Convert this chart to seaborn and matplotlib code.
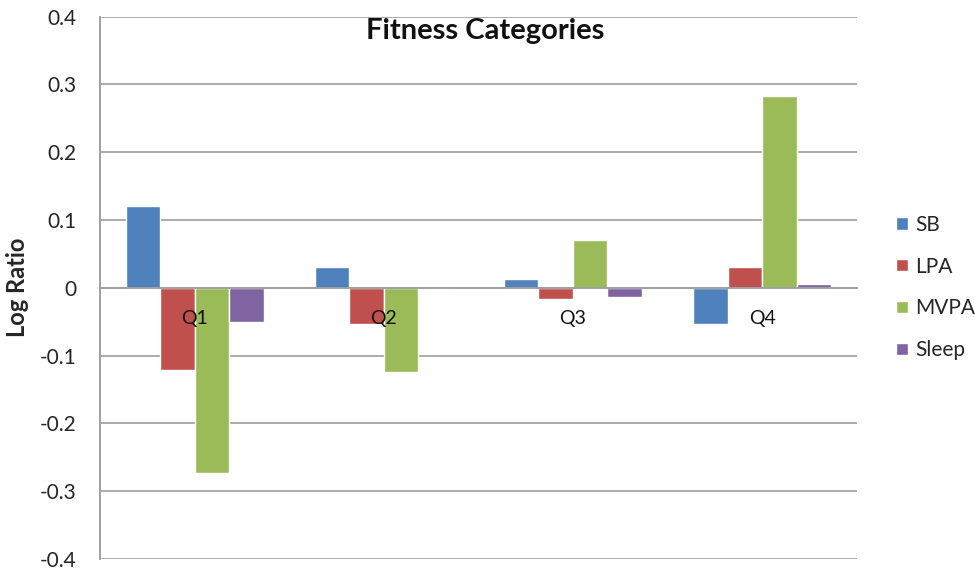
'''Fitness categories log ratio bar chart'''
import pandas as pd
import matplotlib
matplotlib.use('Agg')
import matplotlib.pyplot as plt
from matplotlib.patches import Patch
import seaborn as sns

quartiles = ['Q1', 'Q2', 'Q3', 'Q4']
behaviours = ['SB', 'LPA', 'MVPA', 'Sleep']
sb = [0.120, 0.031, 0.013, -0.053]
lpa = [-0.121, -0.054, -0.016, 0.030]
mvpa = [-0.273, -0.124, 0.070, 0.283]
sleep = [-0.050, 0.002, -0.013, 0.005]
colors = ['#4F81BD', '#C0504D', '#9BBB59', '#8064A2']
y_ticks = [-0.4, -0.3, -0.2, -0.1, 0, 0.1, 0.2, 0.3, 0.4]
y_labels = ['-0.4', '-0.3', '-0.2', '-0.1', '0', '0.1', '0.2', '0.3', '0.4']


def main():
    '''
    main
    '''
    sns.set_style('white')
    plt.rcParams['font.family'] = ['Lato', 'DejaVu Sans']

    rows = []
    for name, vals in zip(behaviours, [sb, lpa, mvpa, sleep]):
        for q, v in zip(quartiles, vals):
            rows.append({'quartile': q, 'behaviour': name, 'value': v})
    df = pd.DataFrame(rows)

    fig = plt.figure(figsize=(9.75, 5.71), dpi=100)
    ax = fig.add_axes([0.1026, 0.021, 0.776, 0.950])
    sns.barplot(data=df, x='quartile', y='value', hue='behaviour',
                order=quartiles, hue_order=behaviours, palette=colors,
                width=0.73, saturation=1, legend=False, ax=ax, zorder=3)

    ax.set_ylim(-0.4, 0.4)
    ax.set_xlim(-0.5, 3.5)
    ax.set_yticks(y_ticks)
    ax.set_yticklabels(y_labels, fontsize=15, color='#262626')
    ax.yaxis.grid(True, color='#ABABAB', linewidth=1.4, zorder=0)
    ax.set_axisbelow(True)
    ax.xaxis.set_zorder(5)

    for side in ['top', 'right']:
        ax.spines[side].set_visible(False)
    ax.spines['left'].set_color('#A0A0A0')
    ax.spines['left'].set_linewidth(1.4)
    ax.spines['bottom'].set_position(('data', 0))
    ax.spines['bottom'].set_color('#A0A0A0')
    ax.spines['bottom'].set_linewidth(1.4)
    ax.spines['bottom'].set_zorder(4)

    ax.tick_params(axis='y', length=7, width=1.4, color='#A0A0A0', pad=10)
    ax.tick_params(axis='x', which='major', length=0, pad=16,
                   labelsize=14, labelcolor='#111111')
    ax.set_xticks(range(len(quartiles)))
    ax.set_xticklabels(quartiles)
    ax.set_xticks([0.5, 1.5, 2.5, 3.5], minor=True)
    ax.tick_params(axis='x', which='minor', length=7, width=1.4,
                   color='#A0A0A0', direction='out')

    ax.set_xlabel('')
    ax.set_ylabel('Log Ratio', fontsize=17, fontweight='bold', labelpad=8)
    ax.text(0.509, 0.997, 'Fitness Categories', transform=ax.transAxes,
            ha='center', va='top', fontsize=21, fontweight='bold',
            color='#111111')

    handles = [Patch(facecolor=c, label=b) for c, b in zip(colors, behaviours)]
    fig.legend(handles=handles, loc='center left',
               bbox_to_anchor=(0.900, 0.4965), frameon=False, fontsize=15,
               handlelength=0.55, handleheight=0.55, handletextpad=0.35,
               labelspacing=1.05)

    fig.savefig('out.png', dpi=100)


if __name__ == '__main__':
    main()
